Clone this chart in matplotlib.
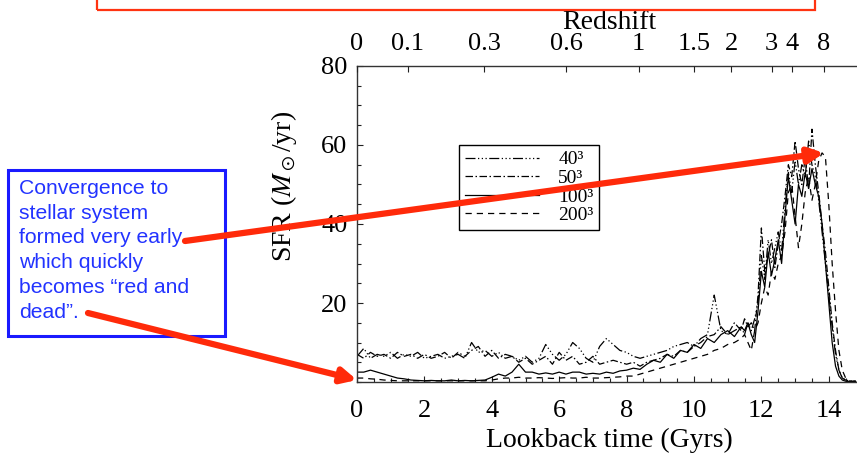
import numpy as np
import matplotlib
matplotlib.use("Agg")
import matplotlib.pyplot as plt
from matplotlib.patches import Rectangle, FancyArrowPatch

plt.rcParams['font.family'] = ['Liberation Serif', 'DejaVu Serif']
plt.rcParams['mathtext.fontset'] = 'stix'

# lookback time grid (Gyr): coarse up to 11.4, finer through the peak
t_coarse = [round(0.2 * i, 1) for i in range(58)]
t_fine = [round(11.5 + 0.1 * i, 1) for i in range(34)]
time = np.array(t_coarse + t_fine)

sfr_40 = [6.5, 8.5, 6, 7, 6.5, 7.5, 6, 7, 6.5, 7.5, 6, 6.5, 7, 6, 6.5, 7, 6, 10, 7.5, 8,
          6.5, 7.5, 6, 6.5, 5.5, 6.5, 5, 6, 9.5, 7, 5.5, 7, 10, 8.5, 6, 5, 9, 11, 9.5, 8,
          7.5, 6.5, 6, 6.5, 7, 7.5, 8, 9, 9.5, 10, 9, 11, 12, 22, 13, 12, 13, 14,
          12, 15, 13, 16, 20, 32, 26, 36, 30, 34, 38, 33, 44, 53, 48, 56, 50, 55, 52, 61,
          55, 52, 46, 38, 30, 22, 14, 7, 3, 1, 0.5, 0.3, 0.2, 0.2]
sfr_50 = [7, 6, 7.5, 6.5, 7, 6, 7.5, 6.5, 7, 6, 7, 6, 6.5, 7.5, 6, 7.5, 6.5, 8, 9, 6.5,
          8, 6, 7, 6.5, 5, 6, 4.5, 5.5, 6.5, 4.5, 7.5, 5.5, 6.5, 4.5, 5, 6.5, 4.5, 5, 5.5, 5,
          4.5, 5, 4, 5, 5.5, 6, 7, 6.5, 8, 7.5, 9, 10, 11.5, 12, 14, 12, 15, 13,
          16, 14, 15, 13, 22, 39, 28, 32, 36, 29, 35, 40, 47, 55, 52, 61, 54, 50, 57, 49,
          64, 55, 48, 40, 33, 24, 15, 8, 3, 1, 0.5, 0.2, 0.2, 0.2]
sfr_100 = [2.5, 2.5, 3, 2.5, 2, 1.5, 1, 0.8, 0.5, 0.4, 0.3, 0.4, 0.3, 0.3, 0.5, 0.3, 0.4, 0.3, 0.4, 0.5,
           1.2, 2, 1.5, 2.5, 4.5, 2.5, 2.5, 2, 2.3, 2, 2.5, 2, 2.5, 2.5, 2, 2.2, 2, 2.5, 2.2, 2.8,
           3, 3.5, 3.2, 4.5, 5.5, 5, 7, 6, 8, 7.5, 9.5, 8.5, 11, 10, 12, 13, 11.5, 14,
           13, 15, 12, 10, 18, 28, 24, 33, 27, 31, 36, 30, 42, 52, 46, 40, 50, 47, 53, 49,
           54, 50, 47, 40, 30, 20, 10, 4, 1.5, 0.5, 0.2, 0.1, 0.1, 0.1]
sfr_200 = [1, 1, 0.8, 0.7, 0.5, 0.4, 0.3, 0.3, 0.3, 0.3, 0.3, 0.3, 0.3, 0.3, 0.3, 0.3, 0.3, 0.3, 0.3, 0.3,
           0.5, 0.8, 1, 1, 1.2, 1, 1, 1.1, 1, 0.9, 1, 1.1, 1, 1, 1.2, 1, 1, 1.1, 1.2, 1.3,
           1.5, 1.5, 2, 2.5, 3, 3.5, 4, 4.5, 5, 5.5, 6, 6.5, 7, 8, 8.5, 9.5, 10, 11,
           12, 10, 8, 13, 15, 20, 24, 22, 28, 26, 30, 32, 38, 48, 50, 42, 34, 40, 48, 52,
           46, 50, 56, 58, 57, 45, 30, 18, 8, 3, 1, 0.3, 0.2, 0.2]

# redshift ticks on the top axis, placed at their lookback times
z_labels = ['0', '0.1', '0.3', '0.6', '1', '1.5', '2', '3', '4', '8']
z_lookback = [0.0, 1.51, 3.77, 6.2, 8.36, 10.0, 11.1, 12.3, 12.9, 13.86]

fig = plt.figure(figsize=(8.57, 4.62), dpi=100)
ax = fig.add_axes([357 / 857, 80 / 462, 505.5 / 857, 316 / 462])

lw = 0.9
ax.plot(time, sfr_40, color='black', lw=lw, ls=(0, (8, 2, 1, 2, 1, 2, 1, 2)), label='40³')
ax.plot(time, sfr_50, color='black', lw=lw, ls=(0, (6, 2, 1.2, 2)), label='50³')
ax.plot(time, sfr_100, color='black', lw=lw, ls='-', label='100³')
ax.plot(time, sfr_200, color='black', lw=lw, ls=(0, (5, 4)), label='200³')

ax.set_xlim(0, 15)
ax.set_ylim(0, 80)
ax.set_xticks([0, 2, 4, 6, 8, 10, 12, 14])
ax.set_xticks(np.arange(0, 15.01, 0.5), minor=True)
ax.set_yticks([20, 40, 60, 80])
ax.set_yticks(np.arange(0, 80.1, 5), minor=True)
ax.tick_params(which='both', direction='in', top=False, right=False, labelsize=19,
               color='#222222', width=0.8)
ax.tick_params(which='major', length=4)
ax.tick_params(which='minor', length=3)
ax.tick_params(axis='x', pad=13)
ax.tick_params(axis='y', pad=7)
for s in ax.spines.values():
    s.set_linewidth(1.0)
    s.set_color('#333333')

ax.set_xlabel('Lookback time (Gyrs)', fontsize=20)
ax.xaxis.set_label_coords(0.5, -0.145)
ax.set_ylabel(r'SFR (${M_\odot}$/yr)', fontsize=20)
ax.yaxis.set_label_coords(-0.115, 0.62)

top = ax.twiny()
top.set_xlim(ax.get_xlim())
top.set_xticks(z_lookback)
top.set_xticklabels(z_labels)
top.tick_params(direction='in', length=4, width=0.8, labelsize=19, pad=8, color='#222222')
top.set_xlabel('Redshift', fontsize=20)
top.xaxis.set_label_coords(0.5, 1.118)
for s in top.spines.values():
    s.set_visible(False)

leg = ax.legend(loc='upper left', bbox_to_anchor=(0.202, 0.75), borderaxespad=0,
                fontsize=14, handlelength=3.8, labelspacing=0.05, handletextpad=1.0,
                borderpad=0.3, fancybox=False, framealpha=1, edgecolor='black')
leg.get_frame().set_linewidth(1.0)

# red frame cut at the top of the slide
fig.patches.append(Rectangle((97 / 857, 452 / 462), (815 - 97) / 857, 30 / 462,
                             transform=fig.transFigure, fill=False,
                             edgecolor='#ff3311', lw=1.6))

# blue note box
fig.patches.append(Rectangle((8 / 857, (462 - 336) / 462), 217 / 857, 166 / 462,
                             transform=fig.transFigure, facecolor='white',
                             edgecolor='#1a1aff', lw=2.2, zorder=5))
fig.text(19 / 857, (462 - 179) / 462,
         'Convergence to\nstellar system\nformed very early\nwhich quickly\nbecomes \u201cred and\ndead\u201d.',
         family='Liberation Sans', fontsize=15.2, color='#2233ff', va='top', ha='left',
         linespacing=1.38, zorder=6)


def px(x, y):
    return (x / 857, (462 - y) / 462)


# red arrows on top of everything
for tail, tip in [((185, 241), (824, 153)), ((88, 313), (357, 380))]:
    arr = FancyArrowPatch(px(*tail), px(*tip), transform=fig.transFigure,
                          arrowstyle='-|>', lw=4.5, color='#ff2a0a',
                          mutation_scale=22, shrinkA=0, shrinkB=0, zorder=10)
    fig.add_artist(arr)

fig.savefig('out.png', dpi=100)
